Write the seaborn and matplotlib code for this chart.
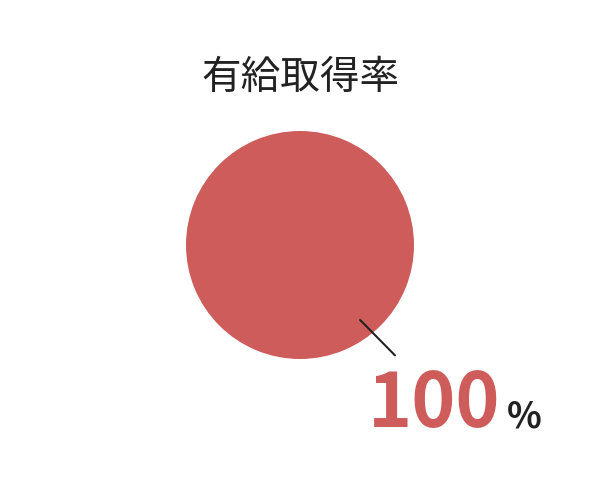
import matplotlib
matplotlib.use("Agg")
import matplotlib.pyplot as plt
import seaborn as sns

# データ
title = "有給取得率"
labels = ["取得"]
values = [100]
rate_text = "100"
unit_text = "%"

sns.set_theme(style="white")
plt.rcParams['font.family'] = ['Noto Sans CJK JP', 'DejaVu Sans']

red = "#CD5C5A"

fig = plt.figure(figsize=(6, 4.8), dpi=100)
fig.patch.set_facecolor("white")

# 円の位置: 中心 (300,245) 半径 114 px
ax = fig.add_axes([(300 - 114) / 600, (480 - 245 - 114) / 480, 228 / 600, 228 / 480])
ax.pie(values, labels=None, colors=[red], startangle=90, counterclock=False,
       wedgeprops=dict(linewidth=0))
ax.set_xlim(-1, 1)
ax.set_ylim(-1, 1)
ax.axis("off")

# 引き出し線
ax.annotate("", xy=(0.51, -0.64), xytext=(0.85, -0.985),
            arrowprops=dict(arrowstyle="-", color="#222222", lw=1.5),
            annotation_clip=False)

fig.text(0.5, (480 - 78) / 480, title, ha="center", va="center",
         fontsize=28.5, color="#222222")

fig.text(500 / 600, (480 - 427) / 480, rate_text, ha="right", va="baseline",
         fontsize=54, fontweight="bold", color=red)
fig.text(507 / 600, (480 - 427) / 480, unit_text, ha="left", va="baseline",
         fontsize=26, fontweight="bold", color="#222222")

fig.savefig("out.png", dpi=100, facecolor="white")
